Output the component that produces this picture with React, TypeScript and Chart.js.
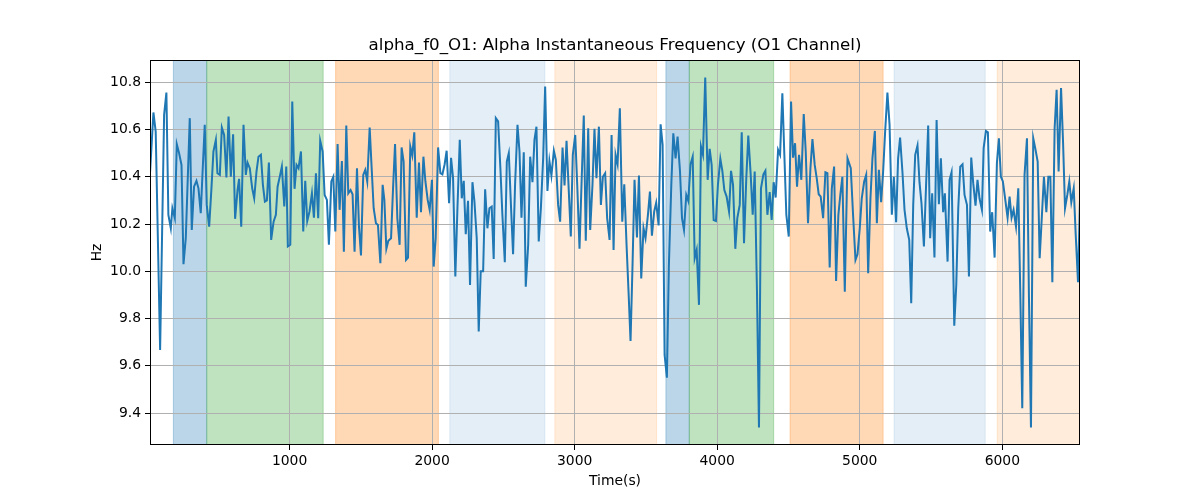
import { useEffect, useRef } from "react";
import { Chart, registerables } from "chart.js";

Chart.register(...registerables);

const TITLE = "alpha_f0_O1: Alpha Instantaneous Frequency (O1 Channel)";
const X_LABEL = "Time(s)";
const Y_LABEL = "Hz";

const xTickValues = [1000, 2000, 3000, 4000, 5000, 6000];
const yTickValues = [9.4, 9.6, 9.8, 10.0, 10.2, 10.4, 10.6, 10.8];

// sample times (s)
const times = [
  21, 45, 61, 92, 120, 136, 150, 167, 178, 195, 209, 225, 242, 256, 272, 300, 314, 330, 347, 361,
  377, 391, 405, 419, 436, 452, 466, 483, 494, 511, 525, 541, 557, 572, 588, 604, 618, 635, 646, 661,
  677, 693, 705, 721, 738, 752, 768, 782, 799, 813, 827, 841,
  855, 871, 888, 904, 916, 934, 946, 963, 977, 988, 1005, 1019, 1035, 1049, 1063, 1080, 1096, 1110, 1124, 1140,
  1157, 1171, 1185, 1201, 1215, 1232, 1246, 1262, 1276, 1293, 1307, 1321, 1337, 1351, 1367, 1381, 1398, 1412, 1428, 1442,
  1456, 1473, 1487, 1501, 1517, 1531, 1545, 1562, 1576, 1590, 1606, 1620, 1637, 1653,
  1665, 1679, 1693, 1712, 1726, 1740, 1756, 1772, 1786, 1800, 1817, 1831, 1847, 1861, 1875, 1892, 1908, 1922, 1939, 1953,
  1969, 1983, 1999, 2011, 2025, 2042, 2058, 2072, 2088, 2102, 2119, 2133, 2147, 2163, 2177, 2194, 2208, 2222, 2236, 2252,
  2266, 2283, 2297, 2313, 2327, 2341, 2358, 2372, 2388, 2402, 2418, 2432, 2447, 2463,
  2479, 2493, 2510, 2524, 2538, 2554, 2568, 2582, 2599, 2613, 2627, 2643, 2657, 2674, 2688, 2704, 2718, 2732, 2748, 2763,
  2779, 2793, 2809, 2823, 2837, 2854, 2868, 2884, 2898, 2915, 2929, 2943, 2959, 2973, 2987, 3004, 3018, 3034, 3048, 3064,
  3078, 3095, 3109, 3125, 3139, 3153, 3170, 3184, 3198, 3214, 3228, 3245, 3259, 3273, 3287,
  3301, 3317, 3334, 3348, 3364, 3378, 3392, 3406, 3420, 3437, 3451, 3467, 3483, 3497, 3514, 3528, 3542, 3558, 3572, 3589,
  3603, 3617, 3631, 3647, 3661, 3678, 3692, 3708, 3722, 3739, 3753, 3767, 3783, 3797, 3813, 3828, 3842, 3856, 3872, 3886,
  3900, 3916, 3933, 3947, 3961, 3975, 3991, 4005, 4022, 4036, 4050, 4066, 4083, 4097,
  4111, 4127, 4141, 4158, 4172, 4188, 4204, 4218, 4235, 4249, 4263, 4279, 4293, 4307, 4324, 4338, 4352, 4368, 4382, 4396,
  4410, 4427, 4441, 4457, 4471, 4485, 4502, 4518, 4532, 4546, 4560, 4574, 4590, 4607, 4621, 4637, 4654, 4668, 4684, 4698,
  4712, 4726, 4743, 4759, 4773, 4789, 4804, 4820, 4834, 4850, 4864, 4878, 4895, 4914,
  4937, 4953, 4970, 4984, 5000, 5014, 5031, 5045, 5059, 5075, 5089, 5106, 5120, 5134, 5150, 5164, 5178, 5194, 5209, 5225,
  5239, 5255, 5269, 5283, 5300, 5314, 5330, 5347, 5361, 5375, 5389, 5405, 5419, 5433, 5450, 5464, 5480, 5494, 5508, 5524,
  5539, 5555, 5569, 5585, 5597, 5616, 5630, 5644, 5663, 5677, 5691, 5705, 5721,
  5735, 5752, 5766, 5782, 5796, 5812, 5826, 5840, 5857, 5869, 5885, 5899, 5915, 5929, 5946, 5962, 5976, 5990, 6004, 6021,
  6037, 6051, 6065, 6079, 6096, 6112, 6126, 6140, 6156, 6173, 6187, 6201, 6217, 6231, 6248, 6262, 6278, 6292, 6309, 6323,
  6337, 6351, 6367, 6381, 6395, 6412, 6426, 6440, 6456, 6470, 6484, 6501, 6515, 6531, 6545,
];

// alpha instantaneous frequency (Hz)
const freqHz = [
  10.415, 10.672, 10.591, 9.667, 10.662, 10.756, 10.239, 10.182, 10.267, 10.225, 10.538, 10.5, 10.45, 10.03, 10.14, 10.648, 10.175, 10.358, 10.383, 10.351,
  10.246, 10.436, 10.62, 10.281, 10.189, 10.351, 10.507, 10.556, 10.415, 10.408, 10.608, 10.577, 10.397, 10.655, 10.4, 10.58, 10.222, 10.344, 10.391, 10.189,
  10.62, 10.408, 10.46, 10.436, 10.351, 10.309, 10.422, 10.485, 10.493, 10.366, 10.295, 10.3,
  10.46, 10.133, 10.21, 10.239, 10.358, 10.408, 10.443, 10.274, 10.443, 10.105, 10.112, 10.718, 10.349, 10.45, 10.436, 10.507, 10.168, 10.383, 10.213, 10.253,
  10.33, 10.227, 10.415, 10.225, 10.552, 10.507, 10.323, 10.302, 10.112, 10.38, 10.4, 10.168, 10.538, 10.26, 10.467, 10.083, 10.617, 10.33, 10.344, 10.326,
  10.083, 10.436, 10.189, 10.067, 10.408, 10.429, 10.38, 10.608, 10.436, 10.267, 10.203, 10.196, 10.034, 10.366,
  10.302, 10.095, 10.129, 10.14, 10.351, 10.538, 10.225, 10.112, 10.524, 10.464, 10.048, 10.058, 10.528, 10.49, 10.588, 10.227, 10.46, 10.25, 10.485, 10.38,
  10.302, 10.26, 10.387, 10.02, 10.14, 10.524, 10.415, 10.41, 10.453, 10.51, 10.288, 10.48, 10.394, 9.978, 10.253, 10.556, 10.309, 10.383, 10.157, 10.298,
  9.942, 10.377, 10.295, 10.14, 9.745, 10.0, 10.0, 10.347, 10.182, 10.267, 10.274, 10.052, 10.648, 10.634,
  10.436, 10.239, 10.038, 10.464, 10.5, 10.267, 10.072, 10.366, 10.62, 10.507, 10.227, 10.504, 9.935, 10.112, 10.485, 10.377, 10.556, 10.612, 10.126, 10.267,
  10.478, 10.782, 10.34, 10.467, 10.405, 10.51, 10.471, 10.281, 10.21, 10.524, 10.363, 10.552, 10.337, 10.147, 10.493, 10.577, 10.366, 10.095, 10.366, 10.659,
  10.129, 10.605, 10.175, 10.366, 10.603, 10.394, 10.612, 10.281, 10.4, 10.415, 10.225, 10.133, 10.577, 10.09, 10.493,
  10.453, 10.69, 10.21, 10.368, 10.112, 9.914, 9.705, 10.027, 10.387, 10.143, 10.405, 9.97, 10.182, 10.14, 10.239, 10.337, 10.151, 10.253, 10.29, 10.194,
  10.622, 10.535, 9.646, 9.55, 10.027, 10.366, 10.584, 10.478, 10.57, 10.422, 10.225, 10.175, 10.323, 10.298, 10.453, 10.485, 10.055, 10.09, 9.858, 10.528,
  10.493, 10.82, 10.387, 10.518, 10.45, 10.217, 10.213, 10.366, 10.476, 10.425, 10.344, 10.316, 10.253, 10.425,
  10.366, 10.095, 10.225, 10.281, 10.588, 10.119, 10.394, 10.574, 10.408, 10.239, 10.422, 9.914, 9.339, 10.351, 10.41, 10.425, 10.239, 10.335, 10.217, 10.377,
  10.312, 10.514, 10.493, 10.753, 10.493, 10.239, 10.147, 10.718, 10.481, 10.542, 10.358, 10.493, 10.387, 10.665, 10.507, 10.203, 10.436, 10.559, 10.45, 10.394,
  10.326, 10.316, 10.225, 10.419, 10.415, 10.016, 10.351, 10.443, 9.959, 10.239, 10.326, 10.4, 9.914, 10.478,
  10.436, 10.239, 10.048, 10.072, 10.182, 10.309, 10.38, 10.408, 9.992, 10.309, 10.478, 10.594, 10.203, 10.429, 10.292, 10.422, 10.591, 10.756, 10.62, 10.239,
  10.4, 10.208, 10.478, 10.566, 10.415, 10.26, 10.182, 10.133, 9.865, 10.281, 10.493, 10.532, 10.377, 10.288, 10.105, 10.344, 10.617, 10.14, 10.33, 10.058,
  10.64, 10.284, 10.478, 10.25, 10.33, 10.041, 10.387, 10.419, 9.77, 9.942, 10.267, 10.443, 10.453,
  10.323, 10.281, 9.978, 10.481, 10.373, 10.278, 10.387, 10.309, 10.26, 10.521, 10.594, 10.588, 10.168, 10.25, 10.058, 10.457, 10.563, 10.4, 10.38, 10.302,
  10.227, 10.316, 10.227, 10.26, 10.189, 10.351, 9.914, 9.42, 10.408, 10.563, 9.886, 9.339, 10.563, 10.521, 10.464, 10.055, 10.239, 10.4, 10.25, 10.4,
  10.4, 9.954, 10.605, 10.768, 10.422, 10.775, 10.549, 10.267, 10.323, 10.38, 10.292, 10.351, 10.154, 9.954, 10.306,
];

// shaded segments (s)
const spanStarts = [185, 419, 1323, 2124, 2861, 3640, 3804, 4511, 5241, 5964];
const spanEnds = [419, 1236, 2044, 2791, 3575, 3804, 4396, 5164, 5880, 6545];
const spanKinds = ["b", "g", "o", "lb", "lo", "b", "g", "o", "lb", "lo"];

const SPAN_COLORS: Record<string, string> = {
  b: "rgba(31,119,180,0.30)",
  g: "rgba(44,160,44,0.30)",
  o: "rgba(255,127,14,0.30)",
  lb: "rgba(31,119,180,0.12)",
  lo: "rgba(255,127,14,0.15)",
};

const FONT = "'DejaVu Sans', Verdana, sans-serif";

export default function App() {
  const ref = useRef<HTMLCanvasElement>(null);

  useEffect(() => {
    if (!ref.current) return;

    const yMin = Math.min(...freqHz);
    const yMax = Math.max(...freqHz);
    const yPad = (yMax - yMin) * 0.05;

    const bandPlugin = {
      id: "bands",
      beforeDraw(chart: any) {
        const { ctx, chartArea, scales } = chart;
        const x = scales.x;
        ctx.save();
        ctx.beginPath();
        ctx.rect(chartArea.left, chartArea.top, chartArea.right - chartArea.left, chartArea.bottom - chartArea.top);
        ctx.clip();
        spanStarts.forEach((s, i) => {
          const x0 = x.getPixelForValue(s);
          const x1 = x.getPixelForValue(spanEnds[i]);
          const c = SPAN_COLORS[spanKinds[i]];
          ctx.fillStyle = c;
          ctx.fillRect(x0, chartArea.top, x1 - x0, chartArea.bottom - chartArea.top);
          ctx.strokeStyle = c;
          ctx.lineWidth = 1;
          ctx.beginPath();
          ctx.moveTo(x0, chartArea.top);
          ctx.lineTo(x0, chartArea.bottom);
          ctx.moveTo(x1, chartArea.top);
          ctx.lineTo(x1, chartArea.bottom);
          ctx.stroke();
        });
        ctx.restore();
      },
    };

    const framePlugin = {
      id: "frame",
      afterDraw(chart: any) {
        const { ctx, chartArea } = chart;
        ctx.save();
        ctx.strokeStyle = "#000";
        ctx.lineWidth = 1;
        ctx.strokeRect(
          Math.round(chartArea.left) + 0.5,
          Math.round(chartArea.top) + 0.5,
          Math.round(chartArea.right - chartArea.left) - 1,
          Math.round(chartArea.bottom - chartArea.top) - 1
        );
        const cx = (chartArea.left + chartArea.right) / 2;
        const cy = (chartArea.top + chartArea.bottom) / 2;
        ctx.fillStyle = "#000";
        ctx.textAlign = "center";
        ctx.textBaseline = "middle";
        ctx.font = `16.7px ${FONT}`;
        ctx.fillText(TITLE, cx, 46);
        ctx.font = `13.9px ${FONT}`;
        ctx.fillText(X_LABEL, cx, 481);
        ctx.translate(97, cy);
        ctx.rotate(-Math.PI / 2);
        ctx.fillText(Y_LABEL, 0, 0);
        ctx.restore();
      },
    };

    const chart = new Chart(ref.current, {
      type: "line",
      data: {
        datasets: [
          {
            data: times.map((t, i) => ({ x: t, y: freqHz[i] })),
            borderColor: "#1f77b4",
            borderWidth: 2,
            pointRadius: 0,
            tension: 0,
            fill: false,
          },
        ],
      },
      options: {
        responsive: false,
        animation: false,
        events: [],
        layout: { padding: { top: 60, right: 120, bottom: 0, left: 0 } },
        plugins: {
          legend: { display: false },
          tooltip: { enabled: false },
          title: { display: false },
        },
        scales: {
          x: {
            type: "linear",
            min: times[0],
            max: times[times.length - 1],
            afterBuildTicks: (s: any) => {
              s.ticks = xTickValues.map((v) => ({ value: v }));
            },
            afterFit: (s: any) => {
              s.height = 55;
            },
            grid: { color: "#b0b0b0", lineWidth: 1, tickLength: 5, tickColor: "#000", drawTicks: true },
            border: { display: false },
            ticks: {
              color: "#000",
              font: { family: FONT, size: 13.9 },
              padding: 3,
              maxRotation: 0,
              autoSkip: false,
              callback: (v: any) => String(v),
            },
          },
          y: {
            type: "linear",
            min: yMin - yPad,
            max: yMax + yPad,
            afterBuildTicks: (s: any) => {
              s.ticks = yTickValues.map((v) => ({ value: v }));
            },
            afterFit: (s: any) => {
              s.width = 150;
            },
            grid: { color: "#b0b0b0", lineWidth: 1, tickLength: 5, tickColor: "#000", drawTicks: true },
            border: { display: false },
            ticks: {
              color: "#000",
              font: { family: FONT, size: 13.9 },
              padding: 4,
              autoSkip: false,
              callback: (v: any) => Number(v).toFixed(1),
            },
          },
        },
      },
      plugins: [bandPlugin, framePlugin],
    });

    return () => chart.destroy();
  }, []);

  return (
    <canvas
      ref={ref}
      width={1200}
      height={500}
      style={{ position: "absolute", left: 0, top: 0, width: 1200, height: 500 }}
    />
  );
}
